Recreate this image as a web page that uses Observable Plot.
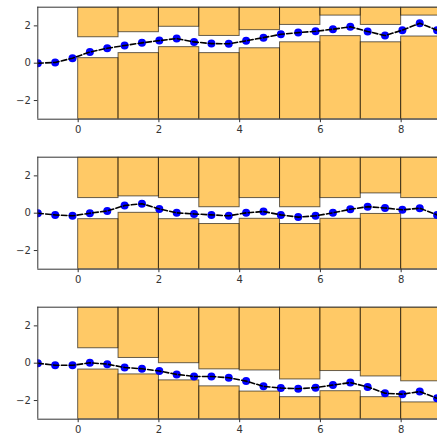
<!DOCTYPE html>
<html>
<head>
<meta charset="utf-8">
<script src="https://cdn.jsdelivr.net/npm/d3@7"></script>
<script src="https://cdn.jsdelivr.net/npm/@observablehq/plot@0.6"></script>
<style>
  body { margin: 0; background: #fff; }
  #chart svg { display: block; }
</style>
</head>
<body>
<div id="chart"></div>
<script>
const xs = [-1, -0.57, -0.14, 0.29, 0.72, 1.15, 1.58, 2.01, 2.44, 2.87, 3.3, 3.73, 4.16, 4.59, 5.02, 5.45, 5.88, 6.31, 6.74, 7.17, 7.6, 8.03, 8.46, 8.89];
const binStarts = [0, 1, 2, 3, 4, 5, 6, 7, 8];
const yTicks = [-2, 0, 2];
const xTicks = [0, 2, 4, 6, 8];

const series1 = [0.0, 0.04, 0.27, 0.6, 0.8, 0.95, 1.09, 1.21, 1.32, 1.14, 1.05, 1.04, 1.2, 1.37, 1.55, 1.64, 1.71, 1.82, 1.95, 1.7, 1.48, 1.77, 2.14, 1.77];
const lower1 = [0.27, 0.54, 0.86, 0.54, 0.8, 1.12, 1.45, 1.12, 1.43];
const upper1 = [1.39, 1.66, 1.95, 1.46, 1.77, 2.05, 2.55, 2.05, 2.55];

const series2 = [0, -0.09, -0.14, 0, 0.12, 0.41, 0.51, 0.23, 0.02, -0.04, -0.09, -0.14, 0.02, 0.09, -0.09, -0.21, -0.14, 0.02, 0.21, 0.35, 0.28, 0.18, 0.27, -0.09];
const lower2 = [-0.32, 0.02, -0.32, -0.58, -0.3, -0.58, -0.3, -0.04, -0.3];
const upper2 = [0.81, 0.9, 0.81, 0.32, 0.81, 0.32, 0.81, 1.06, 0.81];

const series3 = [0, -0.11, -0.11, 0.02, -0.05, -0.23, -0.3, -0.42, -0.6, -0.71, -0.71, -0.78, -0.96, -1.24, -1.33, -1.37, -1.31, -1.17, -1.04, -1.27, -1.61, -1.66, -1.52, -1.88];
const lower3 = [-0.34, -0.6, -0.92, -1.24, -1.52, -1.82, -1.5, -1.82, -2.1];
const upper3 = [0.8, 0.28, 0, -0.33, -0.39, -0.87, -0.42, -0.71, -0.97];

const panels = [
  {series: series1, lower: lower1, upper: upper1},
  {series: series2, lower: lower2, upper: upper2},
  {series: series3, lower: lower3, upper: upper3}
];

const fmt = d => (d < 0 ? "\u2212" : "") + Math.abs(d);
const container = document.getElementById("chart");

for (const p of panels) {
  const pts = xs.map((x, i) => ({x, y: p.series[i]}));
  const bars = binStarts.map((b, i) => ({x1: b, x2: b + 1, lo: p.lower[i], hi: p.upper[i]}));
  const chart = Plot.plot({
    width: 437,
    height: 150,
    marginLeft: 37.3,
    marginRight: 0,
    marginTop: 6.7,
    marginBottom: 31.3,
    style: {fontFamily: "DejaVu Sans", fontSize: "10px", color: "#333", background: "#fff"},
    x: {domain: [-1, 8.9], label: null},
    y: {domain: [-3, 3], label: null},
    marks: [
      Plot.rect(bars, {x1: "x1", x2: "x2", y1: -3, y2: "lo", fill: "#ffa500", fillOpacity: 0.6, stroke: "black", strokeOpacity: 0.6, strokeWidth: 1, clip: true}),
      Plot.rect(bars, {x1: "x1", x2: "x2", y1: "hi", y2: 3, fill: "#ffa500", fillOpacity: 0.6, stroke: "black", strokeOpacity: 0.6, strokeWidth: 1, clip: true}),
      Plot.dot(pts, {x: "x", y: "y", r: 4, fill: "blue", stroke: "none", clip: true}),
      Plot.line(pts, {x: "x", y: "y", stroke: "black", strokeWidth: 1.6, strokeDasharray: "5.5,2.4", clip: true}),
      Plot.ruleX([-1], {stroke: "#333", strokeWidth: 1}),
      Plot.ruleY([-3, 3], {stroke: "#333", strokeWidth: 1}),
      Plot.axisX({ticks: xTicks, tickFormat: fmt, tickSize: 3.5, tickPadding: 3.5, stroke: "#333", fill: "#333"}),
      Plot.axisY({ticks: yTicks, tickFormat: fmt, tickSize: 3.5, tickPadding: 3.5, stroke: "#333", fill: "#333"})
    ]
  });
  container.appendChild(chart);
}
</script>
</body>
</html>
